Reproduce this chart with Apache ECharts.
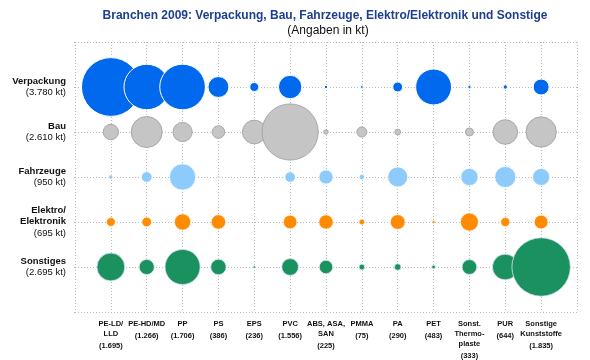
<!DOCTYPE html>
<html>
<head>
<meta charset="utf-8">
<script src="https://cdn.jsdelivr.net/npm/echarts@6/dist/echarts.min.js"></script>
<style>html,body{margin:0;padding:0;background:#fff}#c{width:590px;height:360px}</style>
</head>
<body>
<div id="c"></div>
<script>
var titleText = 'Branchen 2009: Verpackung, Bau, Fahrzeuge, Elektro/Elektronik und Sonstige';
var subtitleText = '(Angaben in kt)';
var colNames = ['PE-LD/\nLLD', 'PE-HD/MD', 'PP', 'PS', 'EPS', 'PVC', 'ABS, ASA,\nSAN', 'PMMA', 'PA', 'PET', 'Sonst.\nThermo-\nplaste', 'PUR', 'Sonstige\nKunststoffe'];
var colTotals = ['(1.695)', '(1.266)', '(1.706)', '(386)', '(236)', '(1.556)', '(225)', '(75)', '(290)', '(483)', '(333)', '(644)', '(1.835)'];
var rowNames = ['Verpackung', 'Bau', 'Fahrzeuge', 'Elektro/\nElektronik', 'Sonstiges'];
var rowTotals = ['(3.780 kt)', '(2.610 kt)', '(950 kt)', '(695 kt)', '(2.695 kt)'];
var verpackung = [1260, 756, 760, 160, 30, 200, 4, 3, 36, 470, 4, 7, 93];
var bau = [86, 351, 135, 58, 204, 1150, 7, 37, 12, 0, 23, 220, 335];
var fahrzeuge = [7, 42, 252, 2, 0, 41, 74, 11, 148, 0, 110, 163, 108];
var elektro = [28, 33, 95, 75, 0, 67, 74, 11, 78, 3, 116, 29, 68];
var sonstiges = [284, 84, 450, 87, 2, 103, 66, 12, 16, 5, 80, 242, 1247];

var rowValues = [verpackung, bau, fahrzeuge, elektro, sonstiges];
var styles = [
  {color: '#0069ee', borderColor: '#ffffff', borderWidth: 1, opacity: 1},
  {color: '#c5c5c5', borderColor: '#a8a8a8', borderWidth: 1, opacity: 1},
  {color: '#8ecbfd', borderColor: '#ffffff', borderWidth: 0.8, opacity: 1},
  {color: '#ff8c00', borderColor: '#ffffff', borderWidth: 0.5, opacity: 1},
  {color: '#1c9160', borderColor: '#d8e8f0', borderWidth: 0.8, opacity: 1}
];
var K = 0.365;

var xCats = [''].concat(colNames.map(function(n, i){ return String(i); })).concat(['']);
var yCats = [''].concat(rowNames.map(function(n, i){ return String(i); })).concat(['']);

var gridStyle = {color: '#b8b8b8', type: [1, 2], width: 1};

var series = rowValues.map(function(vals, r){
  return {
    type: 'scatter',
    data: vals.map(function(v, c){ return [c + 1, r + 1, v]; }).filter(function(d){ return d[2] > 0; }),
    symbolSize: function(d){ return Math.sqrt(d[2] / K); },
    itemStyle: styles[r],
    emphasis: {disabled: true},
    animation: false
  };
});

var chart = echarts.init(document.getElementById('c'), null, {renderer: 'canvas'});
chart.setOption({
  backgroundColor: '#ffffff',
  animation: false,
  textStyle: {fontFamily: 'Liberation Sans, Arial, sans-serif'},
  title: [
    {text: titleText, left: 320, top: 5, textAlign: 'center',
     textStyle: {fontSize: 12, fontWeight: 'bold', color: '#1d3f8f', fontFamily: 'Liberation Sans'}},
    {text: subtitleText, left: 323, top: 20, textAlign: 'center',
     textStyle: {fontSize: 12, fontWeight: 'normal', color: '#111', fontFamily: 'Liberation Sans'}}
  ],
  grid: {left: 75, right: 13, top: 42, bottom: 46, containLabel: false},
  xAxis: {
    type: 'category', data: xCats, boundaryGap: false,
    axisLine: {show: false},
    axisTick: {show: false},
    splitLine: {show: true, lineStyle: gridStyle},
    axisLabel: {
      interval: 0, margin: 7, color: '#111', fontFamily: 'Liberation Sans',
      formatter: function(v){
        if (v === '') return '';
        var i = +v;
        return '{n|' + colNames[i] + '}\n{v|' + colTotals[i] + '}';
      },
      rich: {
        n: {fontSize: 7.5, fontWeight: 'bold', lineHeight: 10, color: '#111', fontFamily: 'Liberation Sans', align: 'center'},
        v: {fontSize: 7.5, fontWeight: 'bold', lineHeight: 14, color: '#111', fontFamily: 'Liberation Sans', align: 'center'}
      }
    }
  },
  yAxis: {
    type: 'category', data: yCats, boundaryGap: false, inverse: true,
    axisLine: {show: false},
    axisTick: {show: true, length: 3, lineStyle: gridStyle},
    splitLine: {show: true, lineStyle: gridStyle},
    axisLabel: {
      interval: 0, margin: 9, color: '#111', fontFamily: 'Liberation Sans',
      formatter: function(v){
        if (v === '') return '';
        var i = +v;
        return '{n|' + rowNames[i] + '}\n{v|' + rowTotals[i] + '}';
      },
      rich: {
        n: {fontSize: 9.5, fontWeight: 'bold', lineHeight: 11, color: '#111', fontFamily: 'Liberation Sans', align: 'right'},
        v: {fontSize: 9.5, fontWeight: 'normal', lineHeight: 12, color: '#111', fontFamily: 'Liberation Sans', align: 'right'}
      }
    }
  },
  series: series
});
</script>
</body>
</html>
